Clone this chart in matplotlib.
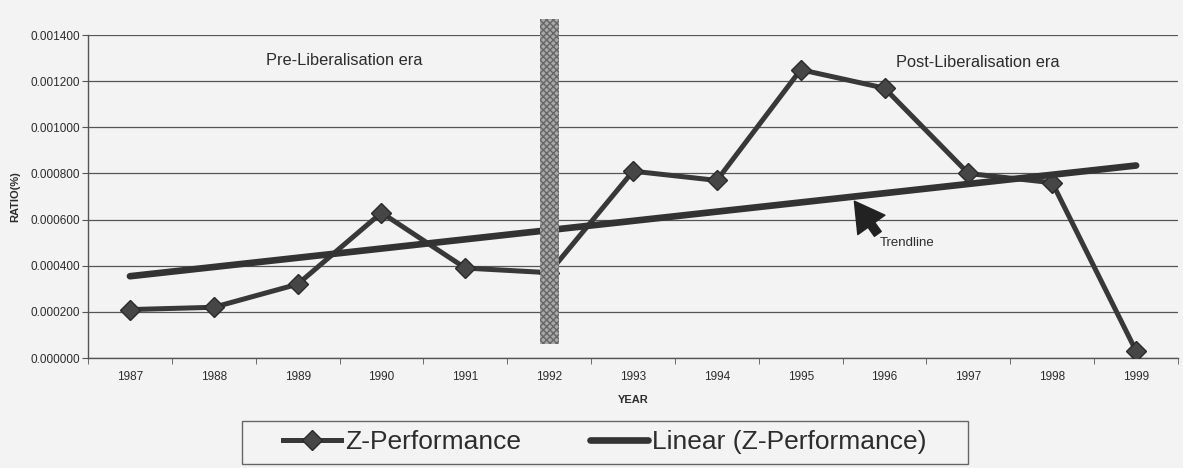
import numpy as np
import matplotlib
matplotlib.use("Agg")
import matplotlib.pyplot as plt
from matplotlib.patches import Rectangle
from matplotlib.ticker import FormatStrFormatter

years = ['1987', '1988', '1989', '1990', '1991', '1992', '1993',
         '1994', '1995', '1996', '1997', '1998', '1999']
z_perf = [0.00021, 0.00022, 0.00032, 0.00063, 0.00039, 0.00037, 0.00081,
          0.00077, 0.00125, 0.00117, 0.00080, 0.00076, 0.00003]
era_split = '1992'

plt.rcParams['font.family'] = ['Liberation Sans', 'DejaVu Sans']
bg = '#f3f3f3'
ink = '#2c2c2c'

x = np.arange(len(years))
slope, icept = np.polyfit(x, z_perf, 1)
trend = slope * x + icept

fig = plt.figure(figsize=(11.83, 4.68), dpi=100, facecolor=bg)
ax = fig.add_axes([0.0744, 0.235, 0.9214, 0.69])
ax.set_facecolor(bg)

ax.set_xlim(-0.5, len(years) - 0.5)
ax.set_ylim(0, 0.0014)
ax.set_yticks(np.arange(0, 0.00141, 0.0002))
ax.yaxis.set_major_formatter(FormatStrFormatter('%.6f'))
ax.grid(axis='y', color='#555555', lw=0.9)
ax.set_axisbelow(True)
for s in ['top', 'right']:
    ax.spines[s].set_visible(False)
for s in ['left', 'bottom']:
    ax.spines[s].set_color('#555555')
    ax.spines[s].set_linewidth(1.0)

ax.set_xticks(x)
ax.set_xticklabels(years)
ax.set_xticks(np.arange(-0.5, len(years)), minor=True)
ax.tick_params(axis='x', which='major', length=0, pad=9, labelsize=8.5, labelcolor=ink)
ax.tick_params(axis='x', which='minor', length=4, color='#555555', direction='out')
ax.tick_params(axis='y', length=4, color='#555555', pad=2, labelsize=8.5, labelcolor=ink)

ax.set_xlabel('YEAR', fontsize=8, fontweight='bold', color=ink, labelpad=9)
ax.set_ylabel('RATIO(%)', fontsize=8, fontweight='bold', color=ink)
ax.yaxis.set_label_coords(-0.062, 0.5)

ax.plot(x, z_perf, color='#383838', lw=3.6, marker='D', ms=10.5,
        mfc='#464646', mec='#2a2a2a', mew=1, label='Z-Performance', zorder=3)
ax.plot(x, trend, color='#333333', lw=4.8, solid_capstyle='round',
        label='Linear (Z-Performance)', zorder=3)

# divider between the two eras
split = years.index(era_split)
ax.bar(split, 0.00141, bottom=0.00006, width=0.23, color='#a8a8a8',
       edgecolor='#666666', hatch='xxxxx', lw=0, clip_on=False, zorder=4)

ax.text(2.56, 0.00129, 'Pre-Liberalisation era', fontsize=11.8, color=ink,
        ha='center', va='center')
ax.text(10.11, 0.00128, 'Post-Liberalisation era', fontsize=11.8, color=ink,
        ha='center', va='center')
ax.annotate('Trendline', xy=(8.64, 0.00068), xytext=(9.27, 0.0005),
            fontsize=9.5, color=ink, ha='center', va='center',
            arrowprops=dict(width=6, headwidth=24, headlength=21,
                            color='#222222', shrink=0.0))

leg = fig.legend(loc='center', bbox_to_anchor=(0.511, 0.0556), ncol=2,
                 frameon=False, fontsize=19, handlelength=2.2,
                 handletextpad=0.15, columnspacing=2.6, borderpad=0)
for t in leg.get_texts():
    t.set_color(ink)
fig.patches.append(Rectangle((242 / 1183, 1 - 464 / 468), 726 / 1183, 43 / 468,
                             transform=fig.transFigure, fill=False,
                             edgecolor='#666666', lw=1.0))

fig.savefig('out.png', dpi=100, facecolor=bg)
